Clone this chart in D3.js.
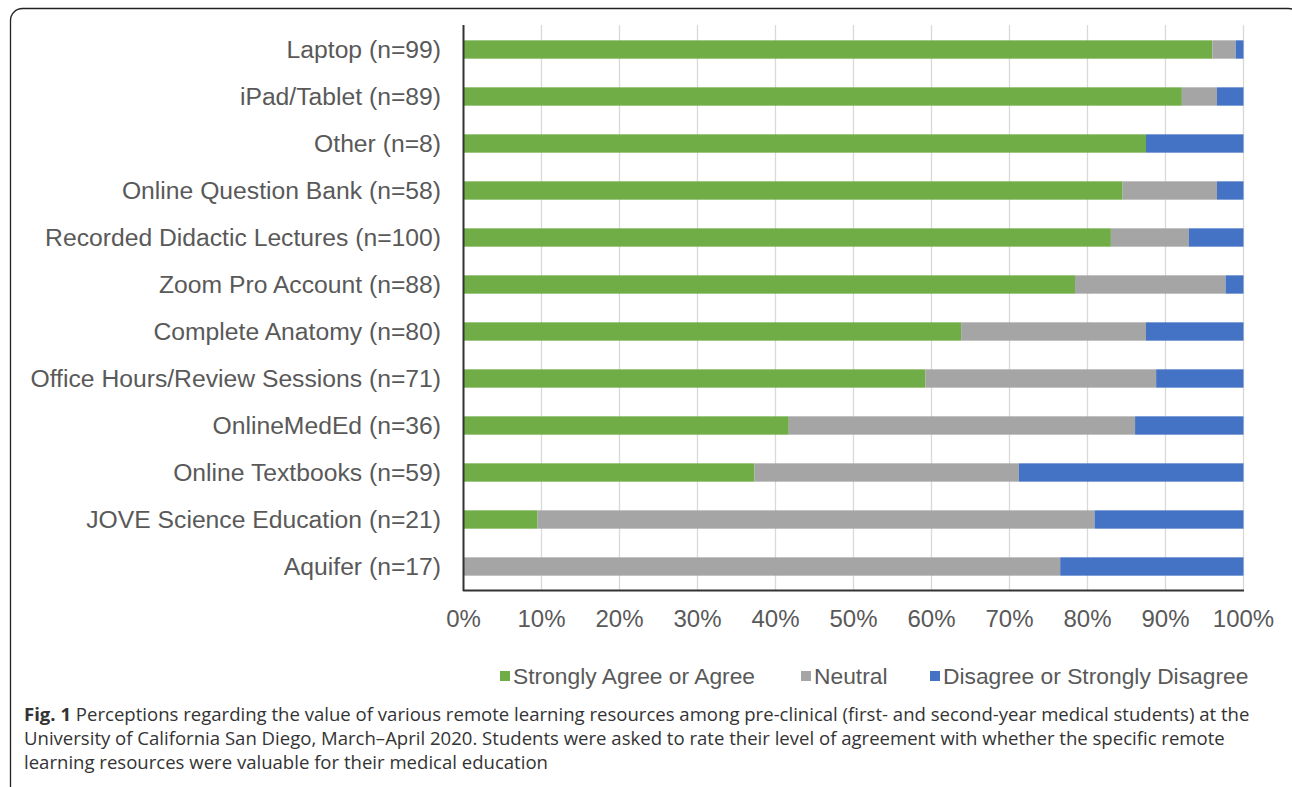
<!DOCTYPE html>
<html><head><meta charset="utf-8">
<script src="https://cdn.jsdelivr.net/npm/d3@7"></script>
<style>body{margin:0;background:#fff;} svg{display:block;}</style>
</head><body>
<svg id="c" width="1292" height="787"></svg>
<script>
const categories = ["Laptop (n=99)","iPad/Tablet (n=89)","Other (n=8)","Online Question Bank (n=58)","Recorded Didactic Lectures (n=100)","Zoom Pro Account (n=88)","Complete Anatomy (n=80)","Office Hours/Review Sessions (n=71)","OnlineMedEd (n=36)","Online Textbooks (n=59)","JOVE Science Education (n=21)","Aquifer (n=17)"];
const agree    = [96.0, 92.1, 87.5, 84.5, 83.0, 78.4, 63.8, 59.2, 41.7, 37.3, 9.5, 0];
const neutral  = [3.0, 4.5, 0, 12.1, 10.0, 19.3, 23.7, 29.6, 44.4, 33.9, 71.4, 76.5];
const disagree = [1.0, 3.4, 12.5, 3.4, 7.0, 2.3, 12.5, 11.2, 13.9, 28.8, 19.1, 23.5];
const seriesNames = ["Strongly Agree or Agree","Neutral","Disagree or Strongly Disagree"];
const seriesColors = ["#70AD47","#A5A5A5","#4472C4"];
const xTicks = [0,10,20,30,40,50,60,70,80,90,100];
const captionBold = "Fig. 1";
const captionLines = [
 " Perceptions regarding the value of various remote learning resources among pre-clinical (first- and second-year medical students) at the",
 "University of California San Diego, March\u2013April 2020. Students were asked to rate their level of agreement with whether the specific remote",
 "learning resources were valuable for their medical education"
];

const svg = d3.select("#c");
const font = "Liberation Sans, Arial, sans-serif";
const textCol = "#595959";

// frame
svg.append("rect").attr("x",10.5).attr("y",8.5).attr("width",1290).attr("height",800).attr("rx",12)
  .attr("fill","none").attr("stroke","#222").attr("stroke-width",1.3);

const x = d3.scaleLinear().domain([0,100]).range([463.5,1243.5]);
const y = d3.scaleBand().domain(categories).range([26,590]).paddingInner(0.61).paddingOuter(0.305);

// gridlines
svg.append("g").selectAll("line").data(xTicks.slice(1)).join("line")
  .attr("x1",d=>x(d)).attr("x2",d=>x(d)).attr("y1",25).attr("y2",590)
  .attr("stroke","#D9D9D9").attr("stroke-width",1.3);

const stackData = categories.map((c,i)=>({cat:c, s0:agree[i], s1:neutral[i], s2:disagree[i]}));
const stack = d3.stack().keys(["s0","s1","s2"])(stackData);
svg.append("g").selectAll("g").data(stack).join("g").attr("fill",(d,i)=>seriesColors[i])
  .selectAll("rect").data(d=>d).join("rect")
  .attr("x",d=>x(d[0])).attr("width",d=>Math.max(0,x(d[1])-x(d[0])))
  .attr("y",d=>y(d.data.cat)).attr("height",y.bandwidth());

// axes lines
svg.append("line").attr("x1",463.5).attr("x2",463.5).attr("y1",25).attr("y2",591).attr("stroke","#333").attr("stroke-width",2);
svg.append("line").attr("x1",463).attr("x2",1244).attr("y1",590.5).attr("y2",590.5).attr("stroke","#333").attr("stroke-width",2);

// category labels
svg.append("g").selectAll("text").data(categories).join("text")
  .attr("x",441).attr("y",d=>y(d)+y.bandwidth()/2).attr("dy","0.35em")
  .attr("text-anchor","end").attr("font-family",font).attr("font-size",24.7).attr("fill",textCol)
  .text(d=>d);

// x tick labels
svg.append("g").selectAll("text").data(xTicks).join("text")
  .attr("x",d=>x(d)).attr("y",619).attr("dy","0.35em").attr("text-anchor","middle")
  .attr("font-family",font).attr("font-size",24).attr("fill",textCol).text(d=>d+"%");

// legend
const legendX = [500, 801, 930];
const lg = svg.append("g").selectAll("g").data(seriesNames).join("g")
  .attr("transform",(d,i)=>`translate(${legendX[i]},676)`);
lg.append("rect").attr("x",0).attr("y",-5).attr("width",10).attr("height",10).attr("fill",(d,i)=>seriesColors[i]);
lg.append("text").attr("x",13).attr("dy","0.35em").attr("font-family",font).attr("font-size",22.8)
  .attr("fill",textCol).text(d=>d);

// caption: one common horizontal squeeze for all lines, fitted to line 1
const capFont = "Open Sans, Noto Sans, sans-serif";
const capY = [721, 745, 769];
const capG = svg.append("g");
const capTexts = captionLines.map((line,i)=>{
  const t = capG.append("text").attr("x",0).attr("y",capY[i]).attr("font-family",capFont)
    .attr("font-size",18.5).attr("fill","#333");
  if(i===0){ t.append("tspan").attr("font-weight","bold").text(captionBold); }
  t.append("tspan").text(line);
  return t;
});
const w1 = capTexts[0].node().getComputedTextLength();
const sx = 1227 / w1;
capG.attr("transform",`translate(24,0) scale(${sx},1)`);
</script>
</body></html>
